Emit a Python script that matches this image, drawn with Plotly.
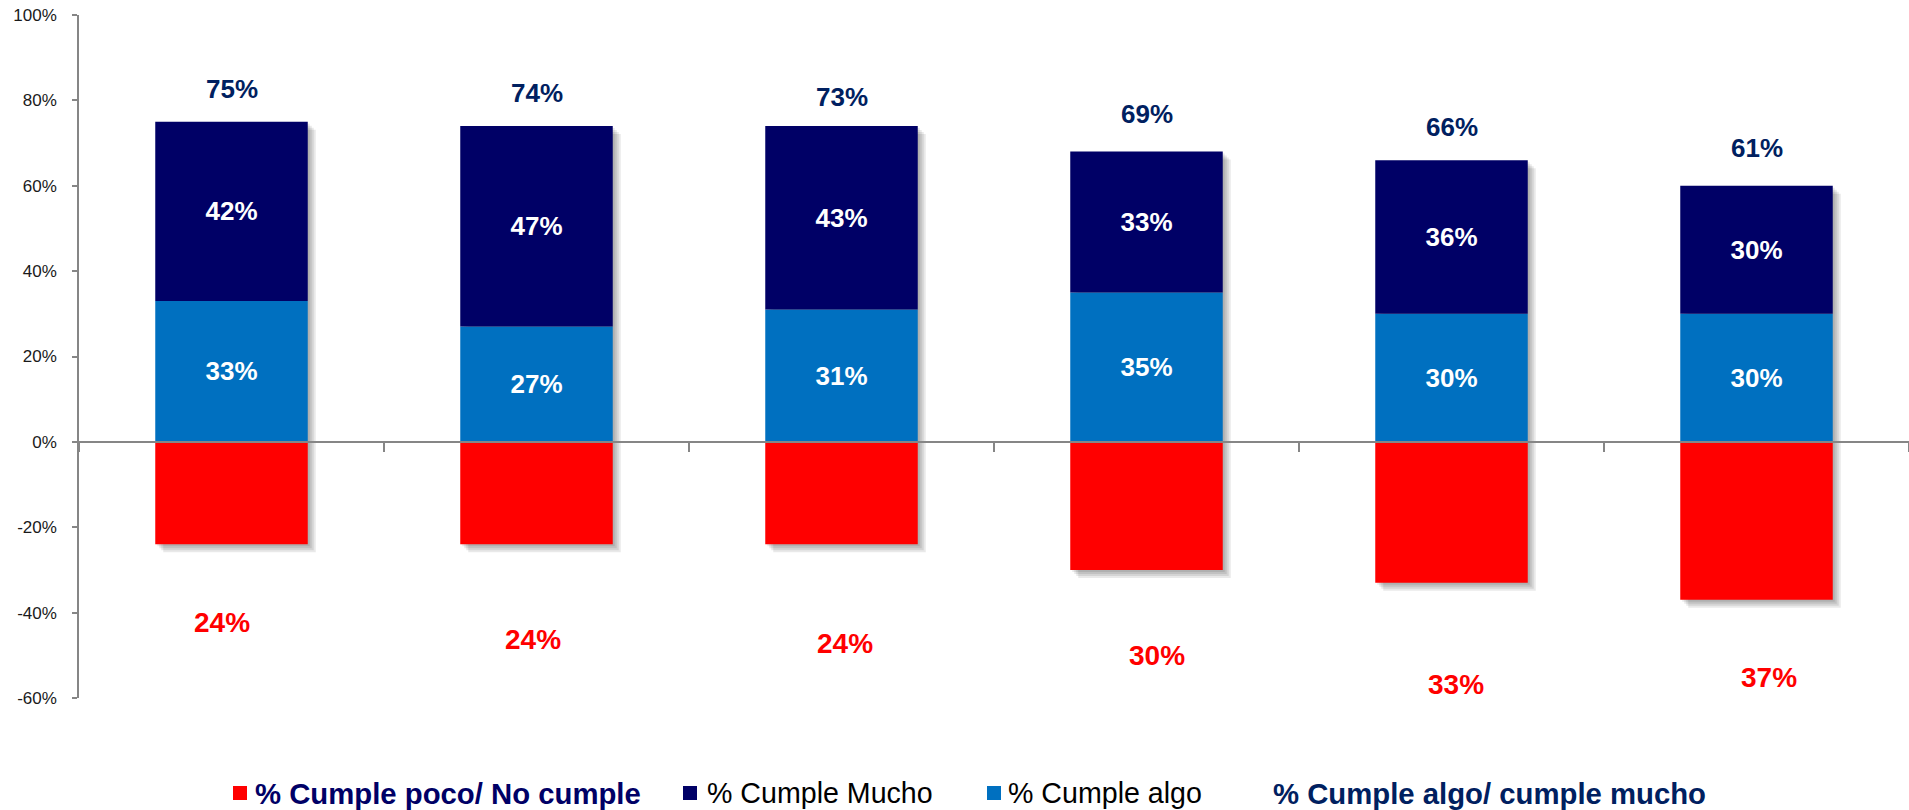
import plotly.graph_objects as go

categories = ["C1", "C2", "C3", "C4", "C5", "C6"]
cumple_mucho = [42, 47, 43, 33, 36, 30]
cumple_algo = [33, 27, 31, 35, 30, 30]
cumple_poco = [24, 24, 24, 30, 33, 37]
totales = [75, 74, 73, 69, 66, 61]
y_ticks = [-60, -40, -20, 0, 20, 40, 60, 80, 100]

legend_labels = ["% Cumple poco/ No cumple", "% Cumple Mucho", "% Cumple algo",
                 "% Cumple algo/ cumple mucho"]

# label placement (layout, not data)
red_label_pos = [-42.2, -46.4, -47.3, -50.1, -56.9, -55.3]
red_label_xshift = [-10, -4, 3, 10, 4, 12]

NAVY = "#000066"
LBLUE = "#0070C0"
RED = "#FF0000"
DARK = "#002060"
FONT = "Liberation Sans"

W, H = 1909, 810
ML, MR, MT, MB = 79, 0, 15, 112
PW, PH = W - ML - MR, H - MT - MB
Y0, Y1 = -60, 100
BAR_W = 0.5
CAT_PX = PW / len(categories)
Y_PX = PH / (Y1 - Y0)


def px2x(px):
    return (px - ML) / PW


def px2y(py):
    return (H - MB - py) / PH


fig = go.Figure()

# soft drop shadow behind each column
for d in [2, 4, 6, 8]:
    fig.add_trace(go.Bar(
        x=categories,
        y=[p + a + m for p, a, m in zip(cumple_poco, cumple_algo, cumple_mucho)],
        base=[-p - d / Y_PX for p in cumple_poco],
        offset=-BAR_W / 2 + d / CAT_PX, width=BAR_W,
        marker=dict(color="rgba(0,0,0,0.085)", line=dict(width=0)),
        hoverinfo="skip", showlegend=False,
    ))

fig.add_trace(go.Bar(
    x=categories, y=[-v for v in cumple_poco], base=0, name=legend_labels[0],
    width=BAR_W, marker=dict(color=RED, line=dict(width=0)), hoverinfo="skip",
))
fig.add_trace(go.Bar(
    x=categories, y=cumple_algo, base=0, name=legend_labels[2], width=BAR_W,
    marker=dict(color=LBLUE, line=dict(width=0)),
    text=[f"{v}%" for v in cumple_algo],
    textposition="inside", insidetextanchor="middle", textangle=0,
    textfont=dict(color="white", size=26, family=FONT, weight="bold"),
    constraintext="none", hoverinfo="skip",
))
fig.add_trace(go.Bar(
    x=categories, y=cumple_mucho, base=cumple_algo, name=legend_labels[1], width=BAR_W,
    marker=dict(color=NAVY, line=dict(width=0)),
    text=[f"{v}%" for v in cumple_mucho],
    textposition="inside", insidetextanchor="middle", textangle=0,
    textfont=dict(color="white", size=26, family=FONT, weight="bold"),
    constraintext="none", hoverinfo="skip",
))
fig.add_trace(go.Scatter(
    x=categories, y=totales, mode="markers",
    marker=dict(color="rgba(0,0,0,0)", size=1),
    name=legend_labels[3], hoverinfo="skip",
))

for c, t in zip(categories, totales):
    fig.add_annotation(x=c, y=t, text=f"<b>{t}%</b>", showarrow=False,
                       yshift=33, yanchor="middle",
                       font=dict(color=DARK, size=26, family=FONT))
for c, v, p, xs in zip(categories, cumple_poco, red_label_pos, red_label_xshift):
    fig.add_annotation(x=c, y=p, text=f"<b>{v}%</b>", showarrow=False,
                       yanchor="middle", xshift=xs,
                       font=dict(color=RED, size=28, family=FONT))

# manual legend (layout)
leg_markers = [(233, RED), (683, NAVY), (987, LBLUE)]
for x0, col in leg_markers:
    fig.add_shape(type="rect", xref="paper", yref="paper",
                  x0=px2x(x0), x1=px2x(x0 + 14), y0=px2y(800), y1=px2y(786),
                  fillcolor=col, line=dict(width=0))
leg_text_x = [255, 707, 1008, 1273]
leg_styles = [("bold", NAVY, 29.3), ("normal", "black", 28.6),
              ("normal", "black", 28.6), ("bold", DARK, 29.3)]
for lx, lab, (wt, col, sz) in zip(leg_text_x, legend_labels, leg_styles):
    fig.add_annotation(xref="paper", yref="paper", x=px2x(lx), y=px2y(793),
                       xanchor="left", yanchor="middle", xshift=-2,
                       text=lab, showarrow=False,
                       font=dict(size=sz, family=FONT, color=col, weight=wt))

fig.update_layout(
    width=W, height=H,
    margin=dict(l=ML, r=MR, t=MT, b=MB, autoexpand=False),
    paper_bgcolor="white", plot_bgcolor="white",
    barmode="overlay",
    font=dict(family=FONT, color="black"),
    showlegend=False,
    xaxis=dict(
        anchor="free", position=(0 - Y0) / (Y1 - Y0), automargin=False,
        range=[-0.5, len(categories) - 0.5],
        showticklabels=False, ticks="outside", tickson="boundaries", ticklen=9,
        tickcolor="#868686", tickwidth=1.5,
        showline=True, linecolor="#868686", linewidth=1.5,
        showgrid=False, zeroline=False,
    ),
    yaxis=dict(
        range=[Y0, Y1], tickvals=y_ticks, ticktext=[f"{v}%" for v in y_ticks],
        ticks="outside", ticklen=5, tickcolor="#868686", tickwidth=1.5,
        showline=True, linecolor="#868686", linewidth=1.5,
        showgrid=False, zeroline=False, automargin=False,
        tickfont=dict(size=17, family=FONT, color="#1a1a1a"),
        ticklabelstandoff=12,
    ),
)

fig.write_html("out.html", config={"displayModeBar": False},
               post_script="document.body.style.margin='0px';")
